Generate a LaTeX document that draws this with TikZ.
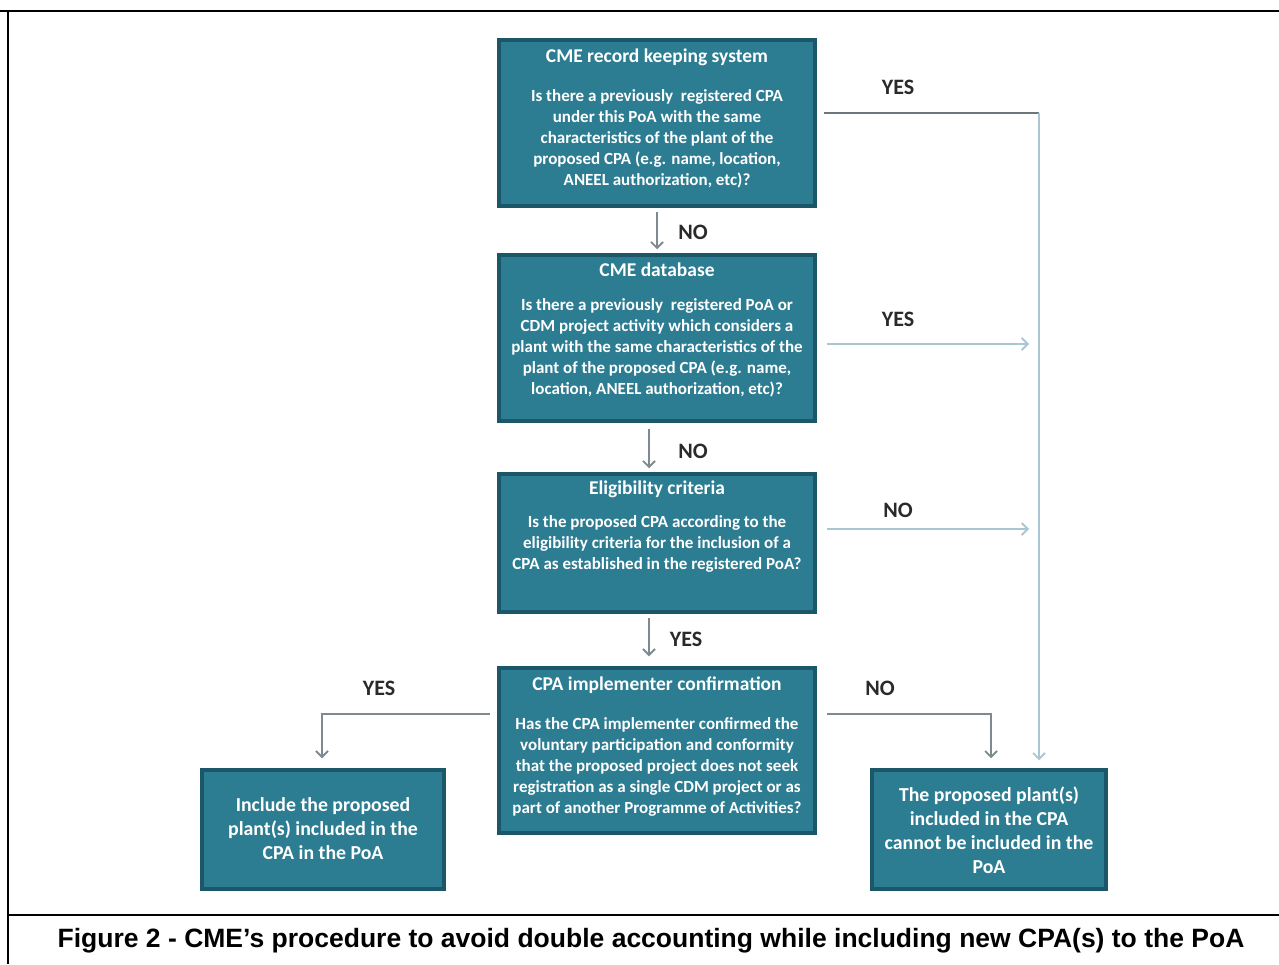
\documentclass[tikz,border=0pt]{standalone}
\usepackage{fontspec}
\setmainfont{Carlito}
\newfontfamily\capfont{Liberation Sans}
\usetikzlibrary{arrows.meta}
\definecolor{boxfill}{HTML}{2C7C92}
\definecolor{boxedge}{HTML}{1B5669}
\definecolor{arrgray}{HTML}{7E8A8F}
\definecolor{arrdark}{HTML}{6B777C}
\definecolor{arrlight}{HTML}{A9C6D2}
\definecolor{lbl}{HTML}{2A2A2A}
\begin{document}
\begin{tikzpicture}[x=1pt,y=-1pt,
  box/.style={fill=boxfill, draw=boxedge, line width=3.5pt, inner sep=0pt},
  ttl/.style={text=white, font=\fontsize{19.5}{22}\selectfont\bfseries, inner sep=0pt},
  body/.style={text=white, align=center, font=\fontsize{17}{21}\selectfont\bfseries, inner sep=0pt},
  big/.style={text=white, align=center, font=\fontsize{19.8}{24}\selectfont\bfseries, inner sep=0pt},
  lab/.style={text=lbl, font=\fontsize{22}{24}\selectfont\bfseries, inner sep=0pt},
  tip/.style={-{Straight Barb[length=6pt,width=12pt,line width=1.8pt]}},
  flow/.style={draw=arrgray, line width=2.2pt, tip},
  side/.style={draw=arrlight, line width=2.2pt, tip},
  frame/.style={draw=black, line width=2pt},
 ]
\useasboundingbox (0,0) rectangle (1279,964);
\fill[white] (0,0) rectangle (1279,964);

% frame
\draw[frame] (0,11) -- (1279,11);
\draw[frame] (8,11) -- (8,964);
\draw[frame] (8,915) -- (1279,915);

% boxes
\node[box, minimum width=316pt, minimum height=166pt] (b1) at (657,123) {};
\node[box, minimum width=316pt, minimum height=166pt] (b2) at (657,338) {};
\node[box, minimum width=316pt, minimum height=138pt] (b3) at (657,543) {};
\node[box, minimum width=316pt, minimum height=165pt] (b4) at (657,750.5) {};
\node[box, minimum width=242pt, minimum height=119pt] (b5) at (323,829.5) {};
\node[box, minimum width=234pt, minimum height=119pt] (b6) at (989,829.5) {};

% texts
\node[ttl] (t1) at (657,57) {CME record keeping system};
\node[body] (d1) at (657,139) {Is there a previously\ \ registered CPA\\under this PoA with the same\\characteristics of the plant\ of the\\proposed CPA (e.g. name, location,\\ANEEL authorization, etc)?};
\node[ttl] (t2) at (657,270) {CME database};
\node[body] (d2) at (657,347.5) {Is there a previously\ \ registered PoA or\\CDM project activity which considers a\\plant with the same characteristics of the\\plant of the proposed\ CPA (e.g. name,\\location, ANEEL authorization, etc)?};
\node[ttl] (t3) at (657,489) {Eligibility criteria};
\node[body] (d3) at (657,544) {Is the proposed\ CPA according to the\\eligibility criteria for the inclusion\ of a\\CPA as established in the registered PoA?};
\node[ttl] (t4) at (657,685) {CPA implementer confirmation};
\node[body] (d4) at (657,766.5) {Has the CPA implementer confirmed the\\voluntary participation and conformity\\that the proposed project\ does not\ seek\\registration as a single CDM project or as\\part of another Programme of Activities?};
\node[big] (d5) at (323,829) {Include the proposed\\plant(s) included in the\\CPA in the PoA};
\node[big] (d6) at (989,830) {The proposed plant(s)\\included in the CPA\\cannot be included in the\\PoA};

% free ends
\coordinate (c1) at (1039,113);
\coordinate (e2) at (1029,344);
\coordinate (e3) at (1029,529);

% connectors
\draw[flow, shorten <=4pt, shorten >=4pt] (b1) -- (b2);
\draw[flow, shorten <=6pt, shorten >=4pt] ([xshift=-8pt]b2.south) -- ([xshift=-8pt]b3.north);
\draw[flow, shorten <=4pt, shorten >=10pt] ([xshift=-8pt]b3.south) -- ([xshift=-8pt]b4.north);
\draw[draw=arrdark, line width=2.2pt] ([xshift=7pt,yshift=10pt]b1.east) -- (c1);
\draw[side] (c1) -- ([xshift=50pt,yshift=8pt]b6.north);
\draw[side] ([xshift=10pt,yshift=-6pt]b2.east) -- (e2);
\draw[side] ([xshift=10pt,yshift=14pt]b3.east) -- (e3);
\draw[flow] ([xshift=10pt,yshift=36.5pt]b4.east) -| ([xshift=2pt,yshift=10pt]b6.north);
\draw[flow] ([xshift=-7pt,yshift=36.5pt]b4.west) -| ([xshift=-1pt,yshift=10pt]b5.north);

% labels
\node[lab] (l1) at (898,87) {YES};
\node[lab] (l2) at (693,232) {NO};
\node[lab] (l3) at (898,319) {YES};
\node[lab] (l4) at (693,451) {NO};
\node[lab] (l5) at (898,510) {NO};
\node[lab] (l6) at (686,639) {YES};
\node[lab] (l7) at (379,688) {YES};
\node[lab] (l8) at (880,688) {NO};

% caption
\node[font=\capfont\bfseries\fontsize{26.5}{28}\selectfont, inner sep=0pt] (cap) at (651,941) {Figure 2 - CME’s procedure to avoid double accounting while including new CPA(s) to the PoA};
\end{tikzpicture}
\end{document}
